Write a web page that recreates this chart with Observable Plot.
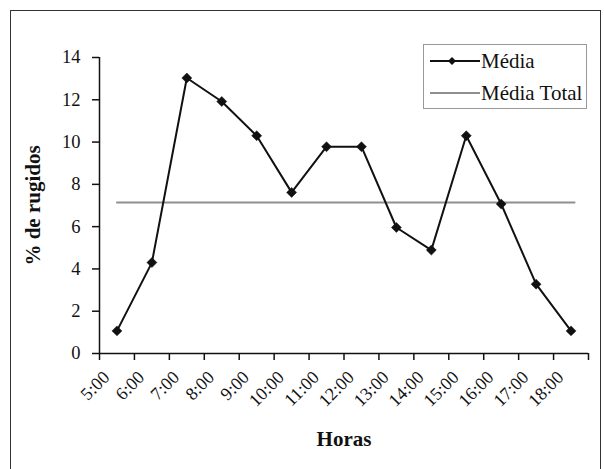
<!DOCTYPE html>
<html>
<head>
<meta charset="utf-8">
<script src="https://cdn.jsdelivr.net/npm/d3@7"></script>
<script src="https://cdn.jsdelivr.net/npm/@observablehq/plot@0.6"></script>
<style>
  html, body { margin: 0; padding: 0; background: #fff; }
  #wrap { position: relative; width: 604px; height: 469px; overflow: hidden; font-family: "Liberation Serif", "DejaVu Serif", serif; }
  #frame { position: absolute; left: 10px; top: 10px; width: 591px; height: 480px; border: 1.5px solid #333; box-sizing: border-box; }
  #chart { position: absolute; left: 0; top: 0; }
  #legend { position: absolute; left: 423px; top: 44px; width: 164px; height: 65px; border: 1px solid #999; box-sizing: border-box; background: #fff; }
  .row { position: absolute; left: 6px; display: flex; align-items: center; font-size: 21px; color: #111; line-height: 24px; }
  .row svg { display: block; }
  svg text { fill: #111; }
  g[aria-label="y-axis tick label"] text { font-size: 18.5px !important; }
  g[aria-label="y-axis label"] text, g[aria-label="x-axis label"] text { font-weight: bold; font-size: 21px !important; }
</style>
</head>
<body>
<div id="wrap">
  <div id="frame"></div>
  <div id="chart"></div>
  <div id="legend"></div>
</div>
<script>
// Data
const hours = [5.5, 6.5, 7.5, 8.5, 9.5, 10.5, 11.5, 12.5, 13.5, 14.5, 15.5, 16.5, 17.5, 18.5];
const media = [1.07, 4.3, 13.03, 11.92, 10.3, 7.62, 9.78, 9.78, 5.96, 4.89, 10.3, 7.07, 3.28, 1.07];
const mediaTotal = 7.14;
const totalSpan = [5.5, 18.6];
const tickHours = [5, 6, 7, 8, 9, 10, 11, 12, 13, 14, 15, 16, 17, 18, 19];
const tickLabels = ["5:00", "6:00", "7:00", "8:00", "9:00", "10:00", "11:00", "12:00", "13:00", "14:00", "15:00", "16:00", "17:00", "18:00", ""];
const yTicks = [0, 2, 4, 6, 8, 10, 12, 14];
const seriesNames = ["Média", "Média Total"];
const xTitle = "Horas";
const yTitle = "% de rugidos";

const points = hours.map((h, i) => ({hour: h, value: media[i]}));
const totalLine = totalSpan.map(h => ({hour: h, value: mediaTotal}));
const xTickData = tickHours.map((h, i) => ({hour: h, label: tickLabels[i]}));

const chart = Plot.plot({
  width: 604,
  height: 469,
  marginLeft: 99,
  marginRight: 16,
  marginTop: 57,
  marginBottom: 116,
  style: {fontFamily: '"Liberation Serif", "DejaVu Serif", serif', fontSize: "18px", background: "transparent", color: "#111"},
  x: {domain: [5, 19]},
  y: {domain: [0, 14]},
  marks: [
    Plot.axisY({ticks: yTicks, tickSize: 7, tickPadding: 12, stroke: "#111", strokeWidth: 1.5,
      label: yTitle, labelAnchor: "center", labelArrow: "none", labelOffset: 74}),
    Plot.axisX({ticks: tickHours, tickSize: 7, tickFormat: () => "", stroke: "#111", strokeWidth: 1.5,
      label: xTitle, labelAnchor: "center", labelArrow: "none", labelOffset: 92}),
    Plot.text(xTickData, {x: "hour", text: "label", frameAnchor: "bottom", rotate: -45,
      textAnchor: "end", dx: 11, dy: 25, fontSize: 18, fill: "#111"}),
    Plot.ruleX([5], {y1: 0, y2: 14, stroke: "#111", strokeWidth: 1.5}),
    Plot.ruleY([0], {x1: 5, x2: 19, stroke: "#111", strokeWidth: 1.5}),
    Plot.line(totalLine, {x: "hour", y: "value", stroke: "#8f8f8f", strokeWidth: 2}),
    Plot.line(points, {x: "hour", y: "value", stroke: "#111", strokeWidth: 2}),
    Plot.dot(points, {x: "hour", y: "value", symbol: "diamond2", r: 4.5, fill: "#111", stroke: "#111", strokeWidth: 0.5})
  ]
});
document.getElementById("chart").appendChild(chart);

// Legend
const legend = document.getElementById("legend");
seriesNames.forEach((name, i) => {
  const row = document.createElement("div");
  row.className = "row";
  row.style.top = (i === 0 ? 4 : 36) + "px";
  row.style.height = "24px";
  const ns = "http://www.w3.org/2000/svg";
  const sw = document.createElementNS(ns, "svg");
  sw.setAttribute("width", 51);
  sw.setAttribute("height", 24);
  const ln = document.createElementNS(ns, "line");
  ln.setAttribute("x1", 0); ln.setAttribute("x2", 50);
  ln.setAttribute("y1", 12); ln.setAttribute("y2", 12);
  ln.setAttribute("stroke", i === 0 ? "#111" : "#8f8f8f");
  ln.setAttribute("stroke-width", i === 0 ? 2 : 1.8);
  sw.appendChild(ln);
  if (i === 0) {
    const dm = document.createElementNS(ns, "path");
    dm.setAttribute("d", "M22,8L26,12L22,16L18,12Z");
    dm.setAttribute("fill", "#111");
    sw.appendChild(dm);
  }
  row.appendChild(sw);
  const t = document.createElement("span");
  t.textContent = name;
  row.appendChild(t);
  legend.appendChild(row);
});
</script>
</body>
</html>
